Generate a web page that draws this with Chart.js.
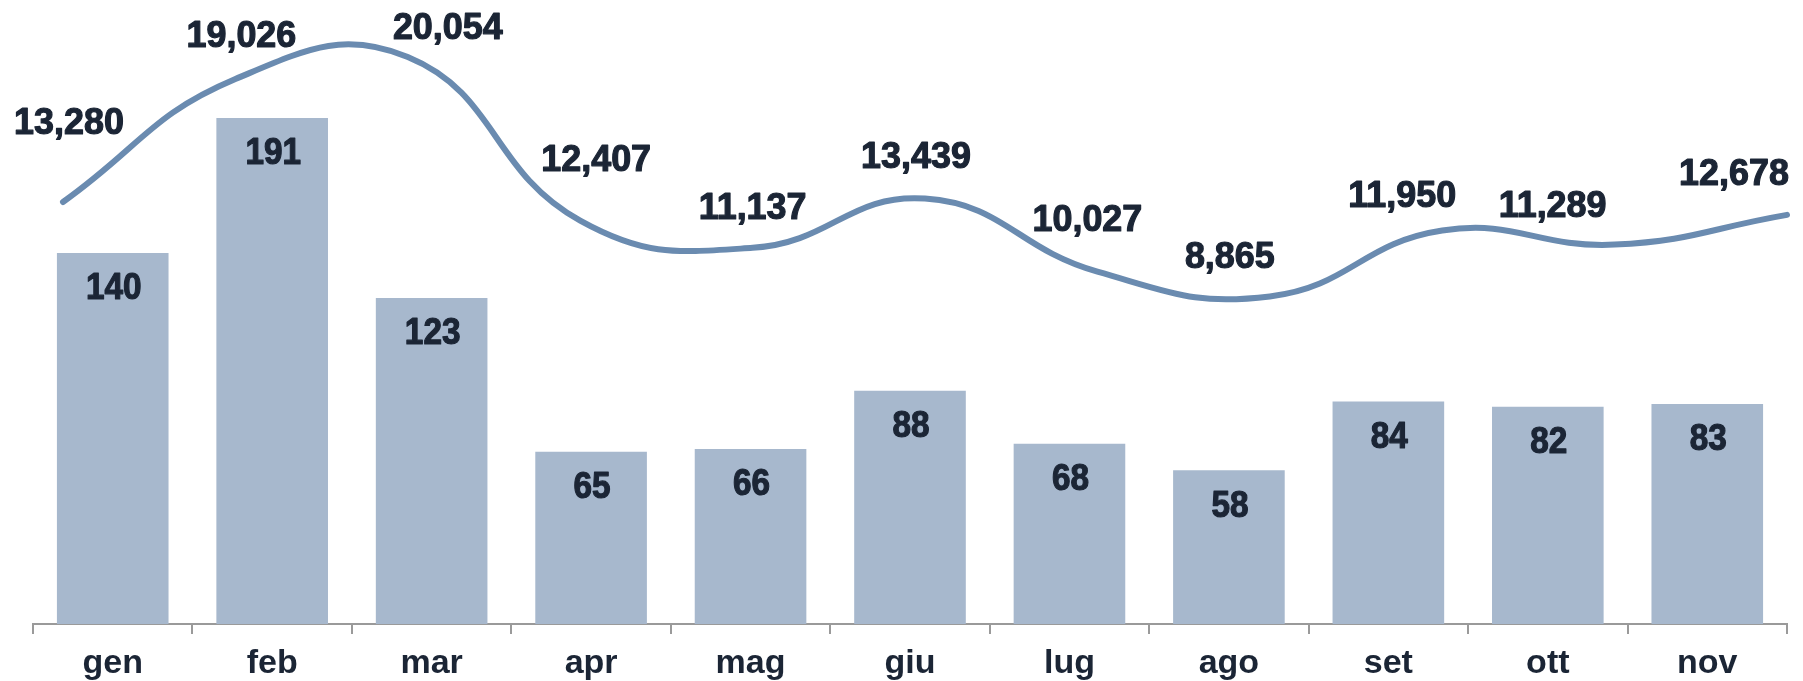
<!DOCTYPE html>
<html lang="it">
<head>
    <meta charset="UTF-8">
    <title>Andamento mensile</title>
    <script src="https://cdn.jsdelivr.net/npm/chart.js"></script>
    <style>
        html, body { margin: 0; padding: 0; background: #fff; }
        #wrap { width: 1803px; height: 681px; }
    </style>
</head>
<body>
<div id="wrap"><canvas id="myChart"></canvas></div>

<script>
    // dati
    const mesi = ['gen', 'feb', 'mar', 'apr', 'mag', 'giu', 'lug', 'ago', 'set', 'ott', 'nov'];
    const barre = [140, 191, 123, 65, 66, 88, 68, 58, 84, 82, 83];
    const linea = [13280, 19026, 20054, 12407, 11137, 13439, 10027, 8865, 11950, 11289, 12678];

    const textColor = '#1b2535';
    const fontFamily = '"Liberation Sans", Arial, sans-serif';

    // spostamento delle etichette della linea rispetto al punto (dx, dy)
    const labelNudge = [[6, -78], [6, -42], [40, -28], [16, -60], [0, -39], [-9, -41],
                        [-10, -51], [-40, -39], [-40, -34], [-62, -38], [-53, -40]];

    // testo grassetto, leggermente stretto in orizzontale
    function boldText(ctx, txt, x, y, sx) {
        ctx.save();
        ctx.translate(x, y);
        ctx.scale(sx, 1);
        ctx.strokeText(txt, 0, 0);
        ctx.fillText(txt, 0, 0);
        ctx.restore();
    }

    const valueLabels = {
        id: 'valueLabels',
        afterDatasetsDraw(chart) {
            const ctx = chart.ctx;
            ctx.save();
            ctx.fillStyle = textColor;
            ctx.strokeStyle = textColor;
            ctx.lineWidth = 1.2;
            ctx.lineJoin = 'round';
            ctx.font = 'bold 37px ' + fontFamily;
            ctx.textAlign = 'center';
            ctx.textBaseline = 'middle';

            chart.getDatasetMeta(0).data.forEach(function (el, i) {
                boldText(ctx, String(barre[i]), el.x + 1, el.y + 36, 0.9);
            });

            chart.getDatasetMeta(1).data.forEach(function (el, i) {
                const txt = linea[i].toLocaleString('en-US');
                boldText(ctx, txt, el.x + labelNudge[i][0], el.y + labelNudge[i][1], 0.97);
            });
            ctx.restore();
        }
    };

    const ctx = document.getElementById('myChart').getContext('2d');
    new Chart(ctx, {
        type: 'line',
        data: {
            labels: mesi,
            datasets: [{
                type: 'bar',
                label: 'barre',
                data: barre,
                backgroundColor: '#a7b8cd',
                barPercentage: 0.70,
                categoryPercentage: 1.0,
                grouped: false,
                xAxisID: 'x',
                yAxisID: 'y',
                order: 1
            }, {
                type: 'line',
                label: 'linea',
                data: linea.map(function (v, i) { return { x: i, y: v }; }),
                borderColor: '#6a8bb0',
                borderWidth: 6,
                borderCapStyle: 'round',
                tension: 0.45,
                pointRadius: 0,
                fill: false,
                clip: false,
                xAxisID: 'x2',
                yAxisID: 'y2',
                order: 0
            }]
        },
        options: {
            responsive: true,
            maintainAspectRatio: false,
            animation: false,
            events: [],
            layout: { padding: { left: 33, right: 16, top: 0, bottom: 0 } },
            plugins: {
                legend: { display: false },
                tooltip: { enabled: false }
            },
            scales: {
                x: {
                    type: 'category',
                    offset: true,
                    grid: {
                        display: true,
                        drawOnChartArea: false,
                        offset: true,
                        tickLength: 10,
                        color: '#9a9a9a',
                        lineWidth: 2
                    },
                    border: { color: '#9a9a9a', width: 2 },
                    ticks: {
                        color: textColor,
                        padding: 9,
                        font: { family: fontFamily, size: 34, weight: 'bold' },
                        maxRotation: 0
                    },
                    afterFit: function (scale) { scale.height = 57; }
                },
                x2: {
                    type: 'linear',
                    display: false,
                    offset: false,
                    grid: { offset: false },
                    min: -0.174,
                    max: 10
                },
                y: {
                    display: false,
                    min: 0,
                    max: 235.5
                },
                y2: {
                    display: false,
                    min: -6440,
                    max: 22719
                }
            }
        },
        plugins: [valueLabels]
    });
</script>
</body>
</html>
